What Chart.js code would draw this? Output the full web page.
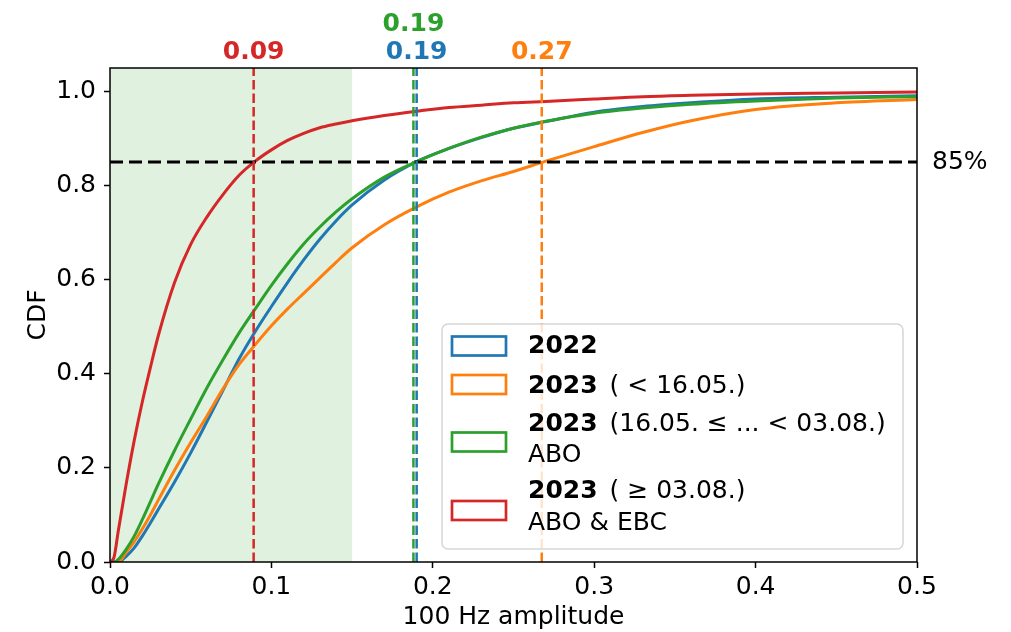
<!DOCTYPE html>
<html>
<head>
<meta charset="utf-8">
<script src="https://cdn.jsdelivr.net/npm/chart.js@4.4.0/dist/chart.umd.min.js"></script>
<style>
  html, body { margin: 0; padding: 0; background: #fff; }
  #wrap { width: 1011px; height: 632px; }
</style>
</head>
<body>
<div id="wrap"><canvas id="cdfChart"></canvas></div>
<script>
// 100 Hz amplitude grid (x) and CDF values
const amplitude = [0, 0.0025, 0.005, 0.01, 0.015, 0.02, 0.025, 0.03, 0.04, 0.05, 0.06, 0.07, 0.08, 0.09, 0.1, 0.11, 0.12, 0.13, 0.14, 0.15, 0.17, 0.19, 0.21, 0.23, 0.25, 0.27, 0.3, 0.33, 0.36, 0.4, 0.45, 0.5];
const cdf2022 = [0, 0, 0, 0.012, 0.03, 0.055, 0.083, 0.112, 0.17, 0.232, 0.298, 0.365, 0.432, 0.49, 0.543, 0.594, 0.642, 0.686, 0.725, 0.759, 0.812, 0.851, 0.879, 0.902, 0.922, 0.936, 0.956, 0.968, 0.976, 0.984, 0.988, 0.991];
const cdf2023Early = [0, 0, 0, 0.02, 0.043, 0.07, 0.1, 0.132, 0.195, 0.254, 0.31, 0.368, 0.42, 0.462, 0.502, 0.538, 0.571, 0.604, 0.637, 0.668, 0.717, 0.755, 0.786, 0.81, 0.83, 0.852, 0.883, 0.913, 0.938, 0.962, 0.976, 0.983];
const cdf2023Abo = [0, 0, 0.005, 0.027, 0.055, 0.09, 0.128, 0.166, 0.237, 0.304, 0.37, 0.43, 0.487, 0.538, 0.588, 0.634, 0.676, 0.712, 0.744, 0.772, 0.818, 0.851, 0.879, 0.903, 0.922, 0.937, 0.954, 0.965, 0.973, 0.98, 0.986, 0.989];
const cdf2023AboEbc = [0, 0.01, 0.063, 0.165, 0.258, 0.34, 0.413, 0.482, 0.594, 0.675, 0.733, 0.781, 0.822, 0.852, 0.876, 0.896, 0.911, 0.923, 0.931, 0.938, 0.949, 0.958, 0.966, 0.971, 0.976, 0.979, 0.984, 0.989, 0.992, 0.995, 0.997, 0.999];

const xTicks = [0, 0.1, 0.2, 0.3, 0.4, 0.5];
const yTicks = [0, 0.2, 0.4, 0.6, 0.8, 1.0];

// 85 % quantiles per series (vertical markers) and their labels
const seriesColors = ['#1f77b4', '#ff7f0e', '#2ca02c', '#d62728'];
const quantile85 = [0.190, 0.2675, 0.188, 0.089];
const quantileLabels = ['0.19', '0.27', '0.19', '0.09'];
const quantileLabelRow = [0, 0, 1, 0]; // 0 = lower row, 1 = upper row
const refLevel = 0.85;
const refLabel = '85%';
const shadedRange = [0, 0.15];

// legend text
const legendBold = ['2022', '2023', '2023', '2023'];
const legendRest = ['', '( < 16.05.)', '(16.05. ≤ ... < 03.08.)', '( ≥ 03.08.)'];
const legendSub = ['', '', 'ABO', 'ABO & EBC'];

const FONT = '"DejaVu Sans", Verdana, sans-serif';
const allSeries = [cdf2022, cdf2023Early, cdf2023Abo, cdf2023AboEbc];

const datasets = allSeries.map((vals, i) => ({
  label: legendBold[i] + ' ' + legendRest[i],
  data: vals.map((v, k) => ({ x: amplitude[k], y: v })),
  borderColor: seriesColors[i],
  borderWidth: 3,
  pointRadius: 0,
  fill: false,
  cubicInterpolationMode: 'monotone',
  order: 3 - i // red on top
}));

const decorations = {
  id: 'decorations',
  beforeDatasetsDraw(chart) {
    const { ctx, chartArea, scales } = chart;
    const x0 = scales.x.getPixelForValue(shadedRange[0]);
    const x1 = scales.x.getPixelForValue(shadedRange[1]);
    ctx.save();
    ctx.fillStyle = 'rgba(44,160,44,0.15)';
    ctx.fillRect(x0, chartArea.top, x1 - x0, chartArea.bottom - chartArea.top);
    ctx.restore();
  },
  afterDatasetsDraw(chart) {
    const { ctx, chartArea, scales } = chart;
    ctx.save();
    // horizontal 85% line
    const yRef = scales.y.getPixelForValue(refLevel);
    ctx.strokeStyle = '#000';
    ctx.lineWidth = 3;
    ctx.setLineDash([13, 6]);
    ctx.beginPath();
    ctx.moveTo(chartArea.left, yRef);
    ctx.lineTo(chartArea.right, yRef);
    ctx.stroke();
    // vertical quantile lines (blue, orange, green, red)
    ctx.lineWidth = 2.5;
    ctx.setLineDash([9.5, 4]);
    quantile85.forEach((q, i) => {
      const x = scales.x.getPixelForValue(q);
      ctx.strokeStyle = seriesColors[i];
      ctx.beginPath();
      ctx.moveTo(x, scales.y.getPixelForValue(0));
      ctx.lineTo(x, chartArea.top);
      ctx.stroke();
    });
    ctx.setLineDash([]);
    // labels above the axes
    ctx.font = 'bold 25px ' + FONT;
    ctx.textAlign = 'center';
    ctx.textBaseline = 'alphabetic';
    quantile85.forEach((q, i) => {
      const x = scales.x.getPixelForValue(q);
      ctx.fillStyle = seriesColors[i];
      ctx.fillText(quantileLabels[i], x, chartArea.top - 9 - quantileLabelRow[i] * 28);
    });
    ctx.font = '25px ' + FONT;
    ctx.fillStyle = '#000';
    ctx.textAlign = 'left';
    ctx.textBaseline = 'middle';
    ctx.fillText(refLabel, chartArea.right + 15, yRef);
    ctx.restore();
  },
  afterDraw(chart) {
    const { ctx, chartArea } = chart;
    ctx.save();
    // spines
    ctx.strokeStyle = '#000';
    ctx.lineWidth = 1.5;
    ctx.strokeRect(chartArea.left, chartArea.top, chartArea.right - chartArea.left, chartArea.bottom - chartArea.top);

    // legend box
    const w = 461, h = 225;
    const lx = chartArea.right - 14 - w;
    const ly = chartArea.bottom - 13 - h;
    ctx.beginPath();
    ctx.roundRect(lx, ly, w, h, 6);
    ctx.fillStyle = 'rgba(255,255,255,0.8)';
    ctx.fill();
    ctx.strokeStyle = '#d6d6d6';
    ctx.lineWidth = 1.5;
    ctx.stroke();

    const boxCenters = [22, 60.5, 118, 186.5];
    const baselines = [29.3, 68.7, 107, 174.3];
    const subBaselines = [0, 0, 137.7, 206];
    ctx.textBaseline = 'alphabetic';
    ctx.textAlign = 'left';
    for (let i = 0; i < legendBold.length; i++) {
      ctx.strokeStyle = seriesColors[i];
      ctx.lineWidth = 2.7;
      ctx.strokeRect(lx + 10, ly + boxCenters[i] - 9.5, 54, 19);
      const tx = lx + 86;
      ctx.fillStyle = '#000';
      ctx.font = 'bold 25px ' + FONT;
      ctx.fillText(legendBold[i], tx, ly + baselines[i]);
      const bw = ctx.measureText(legendBold[i]).width;
      ctx.font = '25px ' + FONT;
      if (legendRest[i]) ctx.fillText(legendRest[i], tx + bw + 12, ly + baselines[i]);
      if (legendSub[i]) ctx.fillText(legendSub[i], tx, ly + subBaselines[i]);
    }
    ctx.restore();
  }
};

new Chart(document.getElementById('cdfChart'), {
  type: 'line',
  data: { datasets },
  plugins: [decorations],
  options: {
    responsive: true,
    maintainAspectRatio: false,
    animation: false,
    devicePixelRatio: 1,
    layout: { padding: { top: 68, right: 94, left: 0, bottom: 0 } },
    plugins: { legend: { display: false }, tooltip: { enabled: false } },
    scales: {
      x: {
        type: 'linear',
        min: 0,
        max: 0.5,
        afterFit: s => { s.height = 70; },
        afterBuildTicks: s => { s.ticks = xTicks.map(v => ({ value: v })); },
        ticks: {
          color: '#000',
          font: { family: FONT, size: 25 },
          padding: 4,
          maxRotation: 0,
          autoSkip: false,
          callback: v => v.toFixed(1)
        },
        grid: { drawOnChartArea: false, drawTicks: true, tickLength: 6, tickColor: '#000', tickWidth: 1.5 },
        border: { display: false },
        title: { display: true, text: '100 Hz amplitude', color: '#000', font: { family: FONT, size: 25 }, padding: { top: 0, bottom: 0 } }
      },
      y: {
        min: 0,
        max: 1.05,
        afterFit: s => { s.width = 110; },
        afterBuildTicks: s => { s.ticks = yTicks.map(v => ({ value: v })); },
        ticks: {
          color: '#000',
          font: { family: FONT, size: 25 },
          padding: 8,
          autoSkip: false,
          callback: v => v.toFixed(1)
        },
        grid: { drawOnChartArea: false, drawTicks: true, tickLength: 6, tickColor: '#000', tickWidth: 1.5 },
        border: { display: false },
        title: { display: true, text: 'CDF', color: '#000', font: { family: FONT, size: 25 }, padding: { top: 23, bottom: 0 } }
      }
    }
  }
});
</script>
</body>
</html>
